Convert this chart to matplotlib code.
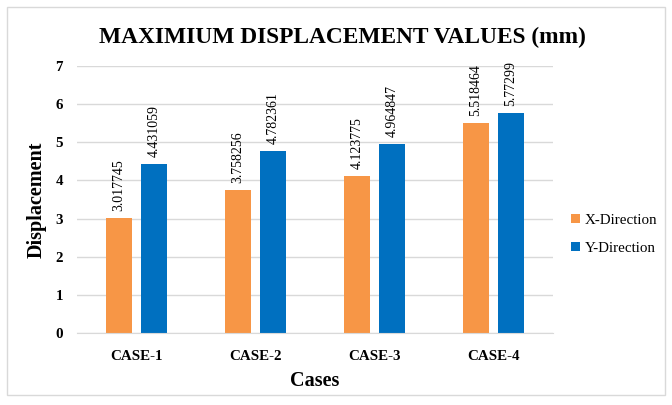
import numpy as np
import matplotlib.pyplot as plt
from matplotlib.patches import Rectangle

cases = ['CASE-1', 'CASE-2', 'CASE-3', 'CASE-4']
x_dir = [3.017745, 3.758256, 4.123775, 5.518464]
y_dir = [4.431059, 4.782361, 4.964847, 5.77299]
x_labels = ['3.017745', '3.758256', '4.123775', '5.518464']
y_labels = ['4.431059', '4.782361', '4.964847', '5.77299']

plt.rcParams['font.family'] = ['Liberation Serif', 'DejaVu Serif']

fig = plt.figure(figsize=(6.72, 4.05), dpi=100)
fig.patches.append(Rectangle((7 / 672, 10 / 405), 658 / 672, 388 / 405,
                             transform=fig.transFigure, fill=False,
                             edgecolor='#d9d9d9', linewidth=1))

ax = fig.add_axes([77 / 672, 72 / 405, 476 / 672, 267 / 405])

pos = np.arange(len(cases))
w = 0.22
off = 0.147
b1 = ax.bar(pos - off, x_dir, w, color='#f79646', label='X-Direction')
b2 = ax.bar(pos + off, y_dir, w, color='#0070c0', label='Y-Direction')

for bars, labels in ((b1, x_labels), (b2, y_labels)):
    for rect, lab in zip(bars, labels):
        ax.annotate(lab, (rect.get_x() + rect.get_width() / 2, rect.get_height()),
                    xytext=(0, 5), textcoords='offset points', rotation=90,
                    ha='center', va='bottom', fontsize=10, color='#000000')

ax.set_xlim(-0.5, 3.5)
ax.set_ylim(0, 7)
ax.set_yticks(range(8))
ax.set_xticks(pos)
ax.set_xticklabels(cases, fontweight='bold', fontsize=10.8)
for t in ax.get_yticklabels():
    t.set_fontweight('bold')
    t.set_fontsize(10.8)
ax.tick_params(length=0, pad=10)
ax.tick_params(axis='x', pad=12)
ax.grid(axis='y', color='#d9d9d9', linewidth=1)
ax.set_axisbelow(True)
for s in ['top', 'right', 'left']:
    ax.spines[s].set_visible(False)
ax.spines['bottom'].set_color('#d9d9d9')

ax.set_xlabel('Cases', fontweight='bold', fontsize=14.5, labelpad=6)
ax.set_ylabel('Displacement', fontweight='bold', fontsize=14.5, labelpad=6)

fig.text(342 / 672, 1 - 37 / 405, 'MAXIMIUM DISPLACEMENT VALUES (mm)',
         ha='center', va='center', fontsize=16.8, fontweight='bold')

ax.legend(loc='center left', bbox_to_anchor=(1.01, 0.37), frameon=False,
          fontsize=10.8, handlelength=0.6, handleheight=0.6, handletextpad=0.3,
          labelspacing=1.0)

fig.savefig('out.png', dpi=100)
